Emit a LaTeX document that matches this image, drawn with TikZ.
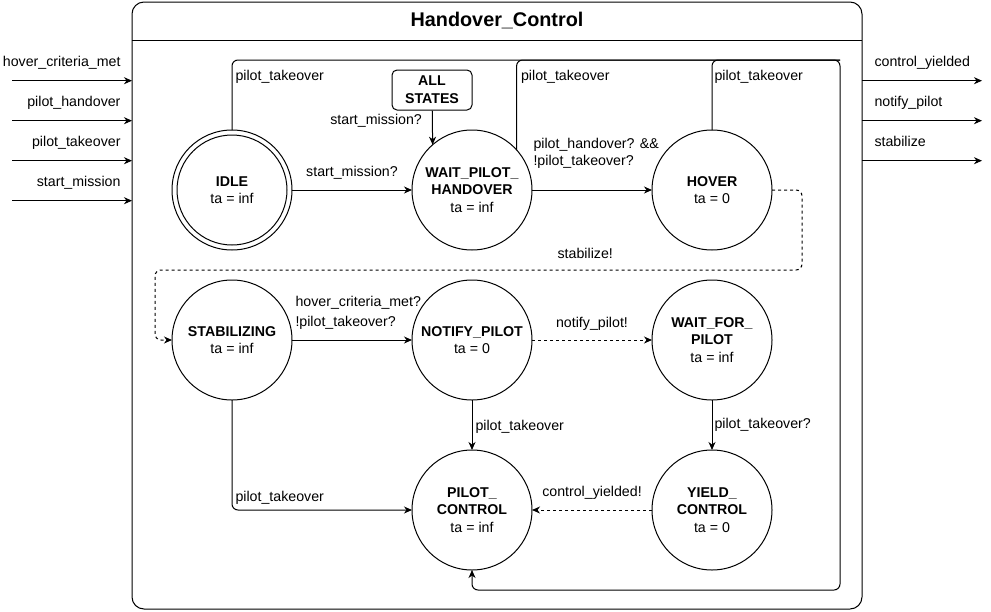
\documentclass[tikz,border=0pt]{standalone}
\usepackage{fontspec}
\setmainfont{Liberation Sans}
\usetikzlibrary{positioning,arrows.meta}

\begin{document}
\begin{tikzpicture}[x=1pt, y=-1pt, line width=1pt,
    state/.style={circle, draw, minimum size=120pt, inner sep=0pt, outer sep=0pt,
                  align=center, font=\fontsize{14.2}{17.5}\selectfont},
    lbl/.style={font=\fontsize{14.2}{17}\selectfont, inner sep=1pt, align=left},
    arrow/.style={-{Stealth[length=8pt,width=7pt,inset=2.5pt]}},
    msg/.style={arrow, dash pattern=on 3pt off 3pt}
]
\useasboundingbox (0,0) rectangle (991,611);

% block frame and title
\node[draw, rounded corners=12pt, minimum width=730pt, minimum height=607pt,
      inner sep=0pt, outer sep=0pt] (ctl) at (497,305.5) {};
\node[font=\bfseries\fontsize{19.8}{22}\selectfont] (title) at (497,21) {Handover\_Control};
\draw (ctl.west |- 0,40) -- (ctl.east |- 0,40);

% states
\node[state] (idle) at (232,190) {\textbf{IDLE}\\ta = inf};
\draw (idle.center) circle[radius=55pt];
\node[state, right=120pt of idle]   (wph)    {\textbf{WAIT\_PILOT\_}\\\textbf{HANDOVER}\\ta = inf};
\node[state, right=120pt of wph]    (hover)  {\textbf{HOVER}\\ta = 0};
\node[state, below=30pt of idle]    (stab)   {\textbf{STABILIZING}\\ta = inf};
\node[state, right=120pt of stab]   (notify) {\textbf{NOTIFY\_PILOT}\\ta = 0};
\node[state, right=120pt of notify] (wfp)    {\textbf{WAIT\_FOR\_}\\\textbf{PILOT}\\ta = inf};
\node[state, below=50pt of notify]  (pc)     {\textbf{PILOT\_}\\\textbf{CONTROL}\\ta = inf};
\node[state, right=120pt of pc]     (yield)  {\textbf{YIELD\_}\\\textbf{CONTROL}\\ta = 0};

\node[draw, rounded corners=5pt, minimum width=80pt, minimum height=40pt, inner sep=1pt,
      align=center, font=\bfseries\fontsize{14.2}{18}\selectfont] (all) at (432,90) {ALL\\STATES};

% input and output ports
\foreach \sig [count=\i] in {hover\_criteria\_met, pilot\_handover, pilot\_takeover, start\_mission} {
  \coordinate (in\i) at (12,{40.7+40*\i});
  \draw[arrow] (in\i) -- node[lbl, pos=1, anchor=base east, xshift=-10pt, yshift=14pt] {\sig} (ctl.west |- in\i);
}
\foreach \sig [count=\i] in {control\_yielded, notify\_pilot, stabilize} {
  \coordinate (out\i) at (982,{40.7+40*\i});
  \draw[arrow] (ctl.east |- out\i) -- node[lbl, pos=0, anchor=base west, xshift=11pt, yshift=14pt] {\sig} (out\i);
}

% transitions
\draw[arrow] (all) -- node[lbl, pos=0.3, left=9pt] {start\_mission?} (wph.131.8);
\draw[arrow] (idle) -- node[lbl, above=9pt] {start\_mission?} (wph);
\draw[arrow] (wph) -- node[lbl, pos=0, anchor=south west, yshift=20pt] {pilot\_handover? \&\&\\!pilot\_takeover?} (hover);
\draw[msg, rounded corners=6pt] (hover.east) -| (802,270)
    -- node[lbl, pos=0.335, above=10pt] {stabilize!} (155,270) |- (stab.west);
\draw[arrow] (stab) -- node[lbl, pos=0, anchor=south west, xshift=2pt, yshift=9pt] {hover\_criteria\_met?\\[3pt]!pilot\_takeover?} (notify);
\draw[msg] (notify) -- node[lbl, above=8pt] {notify\_pilot!} (wfp);
\draw[arrow] (notify) -- node[lbl, right=2pt, yshift=-2pt] {pilot\_takeover} (pc);
\draw[arrow] (wfp) -- node[lbl, right=1pt] {pilot\_takeover?} (yield);
\draw[msg] (yield) -- node[lbl, above=9pt] {control\_yielded!} (pc);
\draw[arrow, rounded corners=6pt] (stab.south) |- node[lbl, pos=0.5, anchor=base west, xshift=2pt, yshift=9pt] {pilot\_takeover} (pc.west);

% pilot takeover from the upper states
\draw[arrow, rounded corners=6pt] (idle.north) |- node[lbl, pos=0.5, anchor=base west, xshift=2pt, yshift=-20pt] {pilot\_takeover} (840,60)
    -- (840,590) -| (pc.south);
\draw[rounded corners=6pt] (wph.42.8) |- node[lbl, pos=0.5, anchor=base west, xshift=3pt, yshift=-20pt] {pilot\_takeover} (840,60);
\draw[rounded corners=6pt] (hover.north) |- node[lbl, pos=0.5, anchor=base west, xshift=1pt, yshift=-20pt] {pilot\_takeover} (840,60);

\end{tikzpicture}
\end{document}
